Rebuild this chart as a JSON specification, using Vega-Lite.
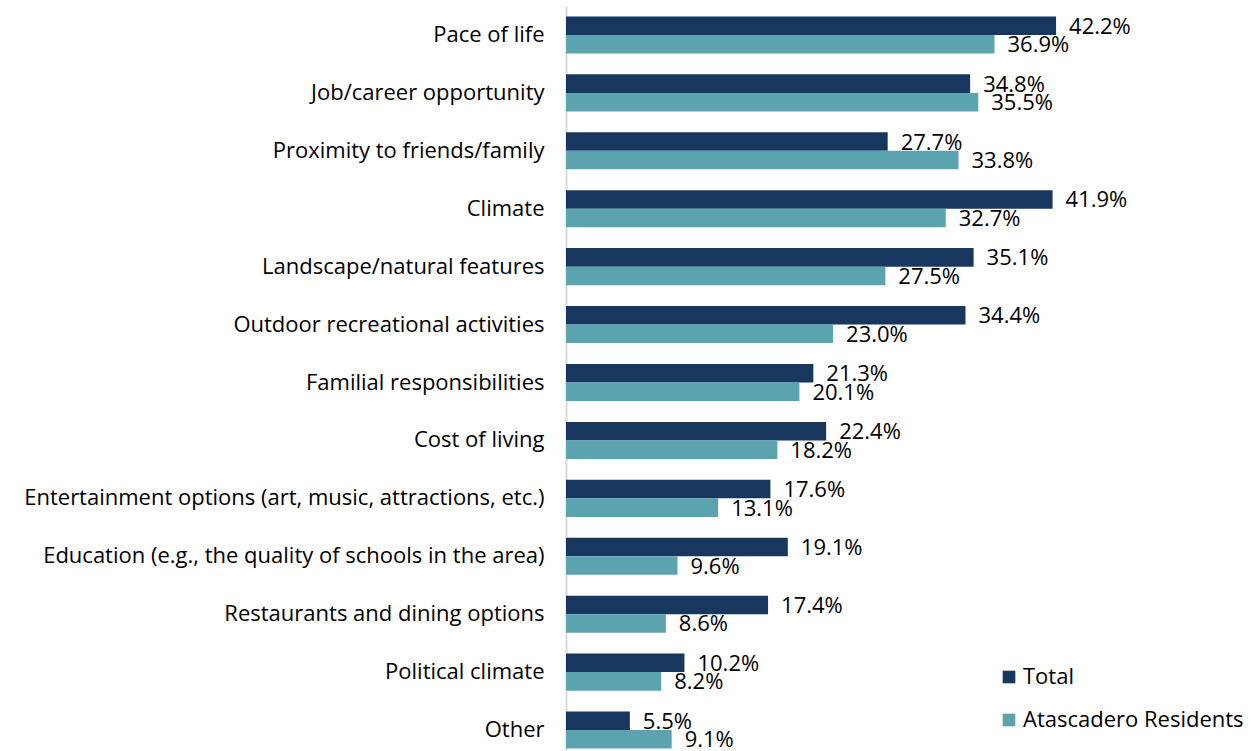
{
  "$schema": "https://vega.github.io/schema/vega-lite/v6.json",
  "width": 684,
  "height": 753,
  "autosize": "none",
  "padding": {"left": 566, "top": 6, "right": 0, "bottom": 0},
  "background": "white",
  "config": {"view": {"stroke": null}, "font": "Open Sans"},
  "data": {"values": [
    {"cat": "Pace of life", "series": "Total", "v": 0.422},
    {"cat": "Pace of life", "series": "Atascadero Residents", "v": 0.369},
    {"cat": "Job/career opportunity", "series": "Total", "v": 0.348},
    {"cat": "Job/career opportunity", "series": "Atascadero Residents", "v": 0.355},
    {"cat": "Proximity to friends/family", "series": "Total", "v": 0.277},
    {"cat": "Proximity to friends/family", "series": "Atascadero Residents", "v": 0.338},
    {"cat": "Climate", "series": "Total", "v": 0.419},
    {"cat": "Climate", "series": "Atascadero Residents", "v": 0.327},
    {"cat": "Landscape/natural features", "series": "Total", "v": 0.351},
    {"cat": "Landscape/natural features", "series": "Atascadero Residents", "v": 0.275},
    {"cat": "Outdoor recreational activities", "series": "Total", "v": 0.344},
    {"cat": "Outdoor recreational activities", "series": "Atascadero Residents", "v": 0.230},
    {"cat": "Familial responsibilities", "series": "Total", "v": 0.213},
    {"cat": "Familial responsibilities", "series": "Atascadero Residents", "v": 0.201},
    {"cat": "Cost of living", "series": "Total", "v": 0.224},
    {"cat": "Cost of living", "series": "Atascadero Residents", "v": 0.182},
    {"cat": "Entertainment options (art, music, attractions, etc.)", "series": "Total", "v": 0.176},
    {"cat": "Entertainment options (art, music, attractions, etc.)", "series": "Atascadero Residents", "v": 0.131},
    {"cat": "Education (e.g., the quality of schools in the area)", "series": "Total", "v": 0.191},
    {"cat": "Education (e.g., the quality of schools in the area)", "series": "Atascadero Residents", "v": 0.096},
    {"cat": "Restaurants and dining options", "series": "Total", "v": 0.174},
    {"cat": "Restaurants and dining options", "series": "Atascadero Residents", "v": 0.086},
    {"cat": "Political climate", "series": "Total", "v": 0.102},
    {"cat": "Political climate", "series": "Atascadero Residents", "v": 0.082},
    {"cat": "Other", "series": "Total", "v": 0.055},
    {"cat": "Other", "series": "Atascadero Residents", "v": 0.091}
  ]},
  "encoding": {
    "y": {
      "field": "cat", "type": "nominal", "sort": null,
      "scale": {"paddingInner": 0.36, "paddingOuter": 0.18},
      "axis": {
        "title": null, "ticks": false, "labelPadding": 22, "labelFontSize": 22,
        "labelColor": "#000000", "labelLimit": 600, "domainColor": "#d9d9d9",
        "domainWidth": 2, "labelFont": "Open Sans"
      }
    },
    "yOffset": {
      "field": "series", "type": "nominal",
      "sort": ["Total", "Atascadero Residents"],
      "scale": {"paddingInner": 0, "paddingOuter": 0}
    },
    "x": {
      "field": "v", "type": "quantitative",
      "scale": {"domain": [0, 0.589], "nice": false, "zero": true},
      "axis": null
    }
  },
  "layer": [
    {
      "mark": {"type": "bar"},
      "encoding": {
        "color": {
          "field": "series", "type": "nominal",
          "sort": ["Total", "Atascadero Residents"],
          "scale": {"domain": ["Total", "Atascadero Residents"], "range": ["#17375e", "#5ba3af"]},
          "legend": {
            "title": null, "orient": "none", "legendX": 432, "legendY": 660,
            "symbolType": "square", "symbolSize": 160, "symbolStrokeWidth": 0,
            "labelFontSize": 22, "labelColor": "#000000", "rowPadding": 21,
            "labelOffset": 3, "labelFont": "Open Sans", "labelLimit": 400
          }
        }
      }
    },
    {
      "mark": {"type": "text", "align": "left", "baseline": "middle", "dx": 13, "dy": 1, "fontSize": 22, "color": "#000000", "font": "Open Sans"},
      "encoding": {
        "text": {"field": "v", "type": "quantitative", "format": ".1%"}
      }
    }
  ]
}
